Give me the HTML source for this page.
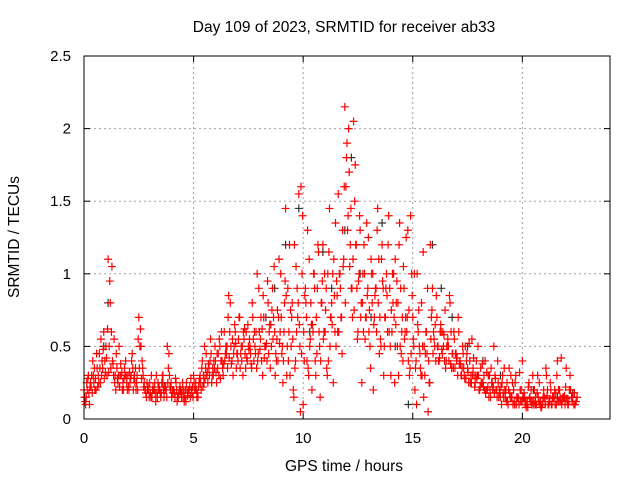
<!DOCTYPE html>
<html><head><meta charset="utf-8"><style>
body{margin:0;background:#fff}
svg{display:block;font-family:"Liberation Sans",sans-serif}
</style></head><body>
<svg id="chart" width="640" height="480">
<text x="344" y="32" text-anchor="middle" font-size="15.5">Day 109 of 2023, SRMTID for receiver ab33</text>
<text x="344" y="471" text-anchor="middle" font-size="15.5">GPS time / hours</text>
<text transform="translate(19,237) rotate(-90)" text-anchor="middle" font-size="15.5">SRMTID / TECUs</text>
<g id="grid"></g><g id="marks"></g><g id="axes"></g>
</svg>
<script>
const xTicks=[0,5,10,15,20];
const yTicks=[0,0.5,1,1.5,2,2.5];
const yTickLabels=["0","0.5","1","1.5","2","2.5"];
const startHour=0, stepHour=0.1;
const redMain=[0.2,0.15,0.3,0.25,0.4,0.2,0.35,0.45,0.3,0.6,0.5,1.1,0.8,0.4,0.25,0.35,0.5,0.3,0.2,0.4,0.3,0.25,0.45,0.3,0.25,0.7,0.5,0.3,0.2,0.2,0.25,0.15,0.2,0.3,0.2,0.15,0.25,0.2,0.5,0.3,0.15,0.2,0.25,0.15,0.2,0.25,0.15,0.2,0.2,0.2,0.3,0.25,0.15,0.3,0.4,0.5,0.3,0.35,0.45,0.3,0.4,0.35,0.5,0.4,0.6,0.45,0.85,0.5,0.3,0.6,0.45,0.7,0.4,0.55,0.6,0.5,0.45,0.7,0.5,1.0,0.6,0.4,0.7,0.5,0.8,0.35,0.9,0.6,0.55,1.1,0.7,0.4,1.45,0.9,0.3,0.8,1.2,0.6,1.55,1.6,0.1,0.9,1.3,0.5,0.2,1.0,0.7,1.15,0.4,1.2,0.6,0.3,1.45,0.8,1.1,0.5,1.55,0.9,1.3,2.15,1.9,1.7,0.9,2.05,1.2,0.6,1.3,0.8,1.0,1.35,0.6,1.1,0.2,0.9,1.45,0.7,1.2,0.5,1.0,1.4,0.3,0.8,1.1,0.5,1.35,0.6,0.9,1.25,0.4,1.4,0.7,0.2,1.0,0.5,0.8,0.15,0.6,0.05,1.2,0.9,0.5,0.7,0.4,0.6,0.5,0.35,0.55,0.8,0.45,0.55,0.4,0.6,0.3,0.45,0.5,0.35,0.4,0.55,0.3,0.4,0.3,0.35,0.25,0.4,0.2,0.3,0.25,0.5,0.2,0.25,0.15,0.3,0.2,0.25,0.35,0.15,0.2,0.3,0.15,0.2,0.4,0.15,0.1,0.25,0.2,0.1,0.15,0.3,0.1,0.1,0.15,0.3,0.1,0.2,0.15,0.1,0.4,0.2,0.1,0.15,0.35,0.1,0.2,0.15,0.1,0.15];
const redLow=[0.12,0.2,0.1,0.3,0.25,0.2,0.3,0.25,0.35,0.4,0.3,0.5,0.6,0.3,0.2,0.25,0.3,0.2,0.35,0.25,0.2,0.3,0.2,0.35,0.2,0.5,0.4,0.25,0.15,0.2,0.15,0.22,0.18,0.15,0.2,0.25,0.15,0.2,0.35,0.2,0.18,0.15,0.12,0.2,0.15,0.2,0.12,0.18,0.15,0.22,0.2,0.15,0.25,0.2,0.3,0.35,0.25,0.4,0.3,0.35,0.25,0.3,0.4,0.3,0.45,0.35,0.6,0.4,0.5,0.35,0.55,0.45,0.3,0.45,0.4,0.55,0.35,0.4,0.6,0.45,0.55,0.3,0.5,0.4,0.6,0.5,0.7,0.45,0.4,0.6,0.5,0.8,0.3,0.6,0.5,0.2,0.4,0.7,0.5,1.0,0.4,0.7,0.3,0.8,0.6,0.4,0.9,0.5,0.8,0.6,0.9,0.4,0.7,1.0,0.6,0.85,1.0,0.7,1.1,1.6,1.4,1.2,0.7,1.5,0.9,1.0,0.8,0.6,0.7,0.9,0.5,0.8,0.7,0.6,1.1,0.5,0.9,0.7,0.6,0.9,0.6,0.7,0.8,0.3,0.9,0.4,0.6,0.7,0.3,1.0,0.5,0.4,0.6,0.35,0.5,0.3,0.45,0.25,0.7,0.6,0.4,0.5,0.6,0.45,0.4,0.5,0.4,0.6,0.35,0.45,0.3,0.4,0.35,0.3,0.4,0.25,0.3,0.35,0.25,0.3,0.2,0.25,0.3,0.2,0.3,0.15,0.2,0.3,0.15,0.2,0.1,0.15,0.2,0.1,0.15,0.25,0.1,0.15,0.1,0.2,0.15,0.12,0.08,0.15,0.12,0.2,0.1,0.12,0.08,0.15,0.1,0.2,0.12,0.1,0.15,0.1,0.2,0.12,0.15,0.1,0.12,0.2,0.15,0.1,0.12];
const redBase=[0.15,0.25,0.18,0.22,0.3,0.28,0.22,0.35,0.4,0.28,0.42,0.32,0.35,0.38,0.3,0.28,0.22,0.32,0.28,0.3,0.22,0.28,0.35,0.25,0.3,0.35,0.28,0.22,0.18,0.22,0.18,0.2,0.25,0.18,0.22,0.18,0.2,0.22,0.25,0.22,0.2,0.18,0.2,0.17,0.18,0.15,0.2,0.16,0.22,0.18,0.25,0.2,0.22,0.25,0.22,0.28,0.32,0.3,0.25,0.4,0.32,0.45,0.28,0.35,0.4,0.5,0.42,0.38,0.45,0.52,0.4,0.35,0.5,0.62,0.42,0.48,0.38,0.55,0.45,0.4,0.48,0.62,0.42,0.52,0.45,0.65,0.55,0.3,0.75,0.52,0.45,0.6,0.85,0.4,0.75,0.55,0.35,0.9,0.65,0.45,0.6,0.8,0.35,0.55,0.65,0.9,0.45,0.6,0.8,0.55,0.75,1.0,0.5,0.65,0.85,0.95,0.6,0.7,1.05,0.8,1.3,1.05,0.9,0.75,1.2,0.95,0.7,1.0,0.55,0.85,0.75,1.0,0.65,0.9,0.8,0.55,0.95,0.7,0.85,0.6,0.75,1.0,0.65,0.8,0.5,0.7,0.55,0.6,0.75,0.45,0.55,0.35,0.65,0.45,0.3,0.5,0.6,0.4,0.55,0.45,0.65,0.5,0.42,0.48,0.58,0.4,0.5,0.38,0.45,0.35,0.42,0.38,0.3,0.35,0.28,0.32,0.25,0.3,0.22,0.28,0.2,0.25,0.22,0.18,0.22,0.2,0.25,0.18,0.2,0.15,0.22,0.18,0.15,0.12,0.18,0.15,0.12,0.1,0.14,0.12,0.15,0.1,0.12,0.14,0.1,0.12,0.1,0.15,0.12,0.1,0.14,0.16,0.12,0.1,0.14,0.18,0.12,0.15,0.13,0.16,0.14,0.12];
const redSpread=[0.1,0.28,0.22,0.18,0.35,0.45,0.25,0.55,0.48,0.32,0.62,0.95,1.05,0.55,0.45,0.3,0.38,0.25,0.3,0.2,0.32,0.4,0.28,0.2,0.55,0.62,0.35,0.2,0.25,0.15,0.3,0.2,0.12,0.25,0.18,0.3,0.22,0.15,0.45,0.25,0.2,0.28,0.15,0.22,0.2,0.12,0.25,0.2,0.28,0.15,0.2,0.18,0.28,0.35,0.25,0.45,0.38,0.55,0.35,0.5,0.45,0.55,0.6,0.38,0.5,0.7,0.8,0.55,0.65,0.45,0.7,0.5,0.6,0.35,0.65,0.5,0.8,0.6,0.35,0.9,0.7,0.85,0.5,0.95,0.65,0.75,1.05,0.4,0.7,1.0,0.25,0.95,0.5,1.2,0.7,0.15,1.05,0.8,0.05,1.4,0.85,0.4,1.1,0.65,1.0,0.3,1.2,0.15,0.95,1.0,0.35,1.15,0.7,0.25,1.35,0.6,1.0,0.45,1.6,1.8,2.0,1.45,1.1,1.75,0.55,1.4,0.25,1.2,0.7,1.25,0.35,1.0,0.85,1.3,0.45,1.1,0.3,0.9,1.2,0.5,1.0,0.25,0.95,1.2,0.45,1.05,0.7,1.3,0.35,0.85,1.0,0.1,0.75,0.3,1.15,0.45,0.9,0.25,0.75,0.55,0.85,0.4,0.65,0.6,0.75,0.5,0.85,0.35,0.6,0.45,0.7,0.38,0.5,0.28,0.45,0.52,0.25,0.42,0.3,0.5,0.22,0.38,0.2,0.32,0.15,0.35,0.22,0.28,0.4,0.18,0.25,0.35,0.12,0.2,0.3,0.1,0.25,0.15,0.32,0.12,0.18,0.08,0.22,0.12,0.3,0.1,0.18,0.25,0.08,0.2,0.35,0.1,0.25,0.15,0.2,0.3,0.12,0.42,0.15,0.22,0.1,0.3,0.12,0.18];
const blackHours=[0.9,1.1,3.6,7.0,8.3,8.7,9.2,9.8,10.3,10.9,11.3,11.9,12.2,12.6,13.1,13.6,14.2,14.8,15.4,15.9,16.3,16.8,17.5,18.2,19.0,20.5,21.6,22.3];
const blackVals=[0.5,0.8,0.3,0.45,0.7,0.9,1.2,1.45,0.6,1.15,0.9,1.3,1.8,1.0,0.7,1.35,0.5,0.1,0.3,1.2,0.9,0.7,0.5,0.4,0.3,0.2,0.15,0.18];
const X0=84,X1=610,Y0=419,Y1=56,XMAX=24,YMAX=2.5;
const xs=v=>X0+(X1-X0)*v/XMAX, ys=v=>Y0-(Y0-Y1)*v/YMAX;
const NS="http://www.w3.org/2000/svg";
function mk(tag,attrs,parent){const e=document.createElementNS(NS,tag);for(const k in attrs)e.setAttribute(k,attrs[k]);parent.appendChild(e);return e;}
const grid=document.getElementById('grid'),axes=document.getElementById('axes'),marks=document.getElementById('marks');
xTicks.forEach(t=>{const x=xs(t);
 if(t>0){const g=mk('line',{x1:x,x2:x,y1:Y0,y2:Y1,stroke:'#a0a0a0','stroke-dasharray':'2,3'},grid);}
 mk('line',{x1:x,x2:x,y1:Y0,y2:Y0-6,stroke:'#000'},axes);mk('line',{x1:x,x2:x,y1:Y1,y2:Y1+6,stroke:'#000'},axes);
 const l=mk('text',{x:x,y:443,'text-anchor':'middle','font-size':15},axes);l.textContent=t;
 
 });
yTicks.forEach((t,i)=>{const y=ys(t);
 if(t>0&&t<YMAX){const g=mk('line',{x1:X0,x2:X1,y1:y,y2:y,stroke:'#a0a0a0','stroke-dasharray':'2,3'},grid);}
 mk('line',{x1:X0,x2:X0+6,y1:y,y2:y,stroke:'#000'},axes);mk('line',{x1:X1,x2:X1-6,y1:y,y2:y,stroke:'#000'},axes);
 const l=mk('text',{x:71,y:y+5,'text-anchor':'end','font-size':15},axes);l.textContent=yTickLabels[i];
 
 });
const frame=mk('rect',{x:X0,y:Y1,width:X1-X0,height:Y0-Y1,fill:'none',stroke:'#000'},axes);


function plus(h,v,col){const x=xs(h),y=ys(v);const p=mk('path',{d:`M${x-4},${y}h8M${x},${y-4}v8`,stroke:col,'stroke-width':1.2,fill:'none'},marks);return p;}
blackHours.forEach((h,i)=>{const p=plus(h,blackVals[i],'#333');
 
 });
[[redBase,0.025],[redLow,0.05],[redSpread,0.075],[redMain,0]].forEach(([arr,off])=>{
 arr.forEach((v,i)=>{const p=plus(startHour+stepHour*i+off,v,'#ff0000');
  
  });
});
</script>
</body></html>
